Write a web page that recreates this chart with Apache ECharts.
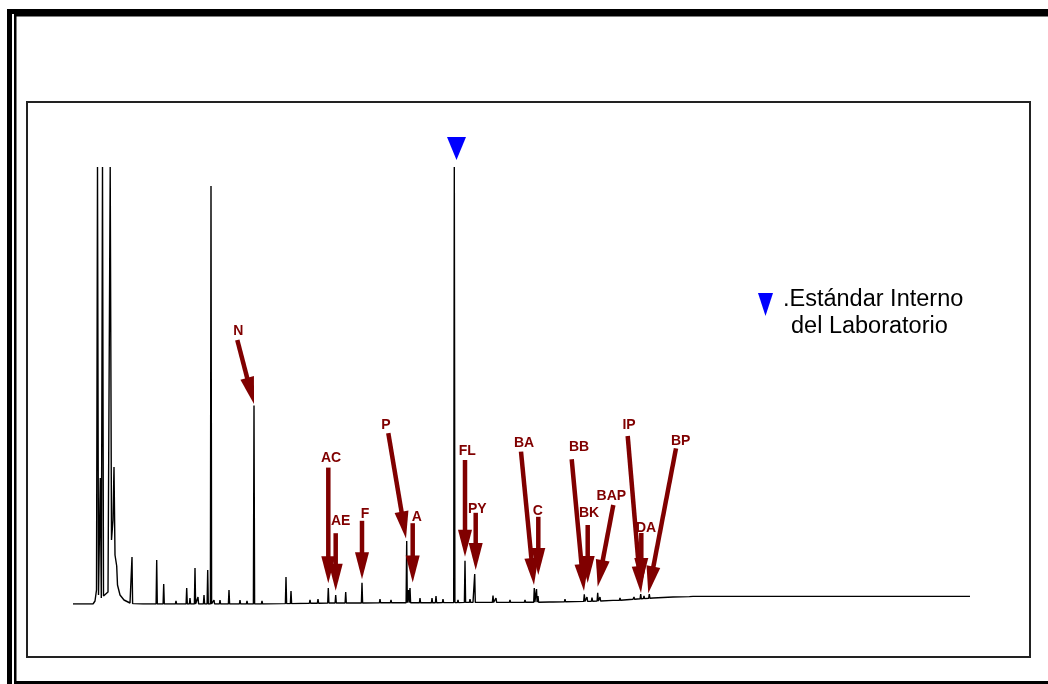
<!DOCTYPE html>
<html>
<head>
<meta charset="utf-8">
<title>Cromatograma HAP</title>
<script src="https://cdn.jsdelivr.net/npm/echarts@6/dist/echarts.min.js"></script>
<style>
  html, body { margin: 0; padding: 0; background: #fff; }
  #chart { width: 1048px; height: 684px; }
</style>
</head>
<body>
<div id="chart"></div>
<script>
// tiempo de retención (min) / señal del detector
const solventFront = [
  [0, 0], [1.0, 0], [1.1, 0.75], [1.175, 3.5], [1.225, 109.25], [1.275, 2.25],
  [1.365, 31.5], [1.415, 1.5], [1.475, 109.25], [1.525, 2], [1.75, 3],
  [1.86, 109.25], [1.925, 16], [2.0, 21], [2.05, 34.25], [2.1, 12.25],
  [2.185, 9.5], [2.225, 4.75], [2.35, 2.25], [2.55, 1], [2.85, 0.25]
]
const baseline = [
  [3.5, 0], [11, 0.2], [20, 0.4], [24, 0.5], [26, 0.7], [27, 0.9],
  [28, 1.2], [29, 1.5], [30, 1.75], [31, 1.9], [44.85, 1.9]
]
// [tiempo, altura del pico, nivel de base]
const peaks = [
  [2.95, 11.75, 0.1], [4.185, 11, 0], [4.535, 5, 0], [5.15, 0.75, 0],
  [5.685, 4, 0], [5.85, 1.5, 0], [6.1, 9, 0], [6.25, 1.75, 0],
  [6.55, 2.25, 0], [6.735, 8.5, 0], [6.9, 104.5, 0], [7.05, 1, 0],
  [7.35, 1, 0], [7.8, 3.5, 0], [8.35, 1, 0], [8.7, 0.75, 0],
  [9.05, 49.6, 0], [9.45, 0.75, 0], [10.65, 6.75, 0.1], [10.9, 3.25, 0.1],
  [11.85, 1, 0.2], [12.25, 1.25, 0.2], [12.765, 4, 0.25], [13.135, 2.25, 0.25],
  [13.635, 3, 0.25], [14.45, 5.3, 0.25], [15.35, 1.25, 0.3], [15.9, 1, 0.3],
  [16.685, 15.75, 0.3], [16.775, 3.5, 0.3], [16.85, 4, 0.3], [17.35, 1.5, 0.3],
  [17.95, 1.5, 0.3], [18.15, 2, 0.3], [18.5, 1.25, 0.35], [19.065, 109.25, 0.35],
  [19.25, 1, 0.35], [19.6, 10.8, 0.4], [19.85, 1.25, 0.4], [20.085, 7.5, 0.4],
  [21.0, 2.1, 0.4], [21.15, 1.5, 0.4], [21.85, 1, 0.4], [22.6, 1, 0.45],
  [23.065, 4, 0.45], [23.175, 3.75, 0.45], [23.25, 2, 0.45], [23.85, 1, 0.5],
  [24.6, 1.2, 0.55], [25.565, 2.4, 0.65], [25.7, 1.75, 0.65], [25.95, 1.6, 0.7],
  [26.235, 2.8, 0.75], [26.35, 1.75, 0.75], [27.35, 1.5, 0.95], [28.05, 1.75, 1.2],
  [28.385, 2.5, 1.3], [28.55, 2.0, 1.35], [28.815, 2.5, 1.45], [30.85, 2.0, 1.85],
  [31.85, 2.0, 1.9], [39.85, 2.0, 1.9]
]

// compuestos señalados
const compoundNames = ['N', 'AC', 'AE', 'F', 'P', 'A', 'FL', 'PY', 'BA', 'C', 'BB', 'BK', 'BAP', 'IP', 'DA', 'BP']
const labelPoints = [
  [8.265, 68.3], [12.9, 36.4], [13.385, 20.6], [14.6, 22.4], [15.65, 44.75], [17.185, 21.8],
  [19.715, 38.1], [20.215, 23.75], [22.55, 40.3], [23.235, 23.1], [25.3, 39.2], [25.8, 22.8],
  [26.915, 27], [27.8, 44.75], [28.65, 18.9], [30.385, 40.8]
]
const arrowTails = [
  [8.215, 66], [12.765, 34.1], [13.135, 17.7], [14.45, 20.8], [15.765, 42.7], [16.985, 20.2],
  [19.6, 36], [20.135, 22.8], [22.4, 38.1], [23.265, 21.8], [24.935, 36.2], [25.735, 19.75],
  [27.015, 24.75], [27.735, 42], [28.415, 17.75], [30.15, 38.9]
]
const arrowTips = [
  [9.05, 50], [12.765, 5.2], [13.135, 3.3], [14.45, 6.2], [16.65, 16.4], [16.985, 5.4],
  [19.6, 11.8], [20.135, 8.5], [23.05, 4.75], [23.265, 7.25], [25.55, 3.25], [25.735, 5.25],
  [26.235, 4.3], [28.4, 2.75], [28.415, 4.75], [28.765, 2.7]
]
const internalStandard = [19.175, 113.9]
const legendLines = ['.Estándar Interno', 'del Laboratorio']

const RED = '#800000'
const FONT = '"Liberation Sans", Arial, sans-serif'

// trazo completo: frente de solvente + base + picos
let trace = solventFront.concat(baseline)
peaks.forEach(p => {
  trace.push([p[0] - 0.03, p[2]], [p[0], p[1]], [p[0] + 0.03, p[2]])
})
trace.sort((a, b) => a[0] - b[0])

const arrowData = arrowTails.map((t, i) => [t[0], t[1], arrowTips[i][0], arrowTips[i][1]])

const chart = echarts.init(document.getElementById('chart'))
chart.setOption({
  animation: false,
  backgroundColor: '#fff',
  grid: { left: 73, right: 75, top: 124, bottom: 80 },
  xAxis: { type: 'value', min: 0, max: 45, show: false },
  yAxis: { type: 'value', min: 0, max: 120, show: false },
  graphic: [
    // marco doble exterior
    { type: 'rect', shape: { x: 7, y: 9, width: 1041, height: 5 }, style: { fill: '#000' } },
    { type: 'rect', shape: { x: 7, y: 9, width: 5, height: 675 }, style: { fill: '#000' } },
    { type: 'rect', shape: { x: 14, y: 14, width: 1034, height: 2.5 }, style: { fill: '#000' } },
    { type: 'rect', shape: { x: 14, y: 14, width: 2.5, height: 670 }, style: { fill: '#000' } },
    { type: 'rect', shape: { x: 14, y: 681, width: 1034, height: 3 }, style: { fill: '#000' } },
    // recuadro interior
    { type: 'rect', shape: { x: 27, y: 102, width: 1003, height: 555 }, style: { fill: 'none', stroke: '#222', lineWidth: 2 } },
    // leyenda
    { type: 'polygon', shape: { points: [[758, 293], [773, 293], [765.5, 316]] }, style: { fill: '#0000ff' } },
    { type: 'text', x: 783, y: 300, style: { text: legendLines[0], font: '23.5px ' + FONT, fill: '#000', verticalAlign: 'middle' } },
    { type: 'text', x: 791, y: 327, style: { text: legendLines[1], font: '23.5px ' + FONT, fill: '#000', verticalAlign: 'middle' } }
  ],
  series: [
    {
      type: 'line',
      data: trace,
      showSymbol: false,
      silent: true,
      lineStyle: { color: '#000', width: 1.4 }
    },
    {
      // estándar interno
      type: 'scatter',
      data: [internalStandard],
      symbol: 'triangle',
      symbolRotate: 180,
      symbolSize: [19, 23],
      itemStyle: { color: '#0000ff', opacity: 1 },
      silent: true
    },
    {
      type: 'custom',
      data: labelPoints,
      silent: true,
      z: 3,
      renderItem (params, api) {
        const p = api.coord([api.value(0), api.value(1)])
        return {
          type: 'text',
          x: p[0],
          y: p[1],
          style: {
            text: compoundNames[params.dataIndex],
            font: 'bold 14px ' + FONT,
            fill: RED,
            align: 'center',
            verticalAlign: 'middle'
          }
        }
      }
    },
    {
      type: 'custom',
      data: arrowData,
      encode: { x: [0, 2], y: [1, 3] },
      silent: true,
      z: 4,
      renderItem (params, api) {
        const a = api.coord([api.value(0), api.value(1)])
        const b = api.coord([api.value(2), api.value(3)])
        const dx = b[0] - a[0]
        const dy = b[1] - a[1]
        const len = Math.sqrt(dx * dx + dy * dy)
        const ux = dx / len
        const uy = dy / len
        const headLen = 27
        const half = 7
        const bx = b[0] - ux * headLen
        const by = b[1] - uy * headLen
        return {
          type: 'group',
          children: [
            {
              type: 'line',
              shape: { x1: a[0], y1: a[1], x2: bx + ux * 2, y2: by + uy * 2 },
              style: { stroke: RED, lineWidth: 4.5 }
            },
            {
              type: 'polygon',
              shape: { points: [[b[0], b[1]], [bx - uy * half, by + ux * half], [bx + uy * half, by - ux * half]] },
              style: { fill: RED }
            }
          ]
        }
      }
    }
  ]
})
</script>
</body>
</html>
